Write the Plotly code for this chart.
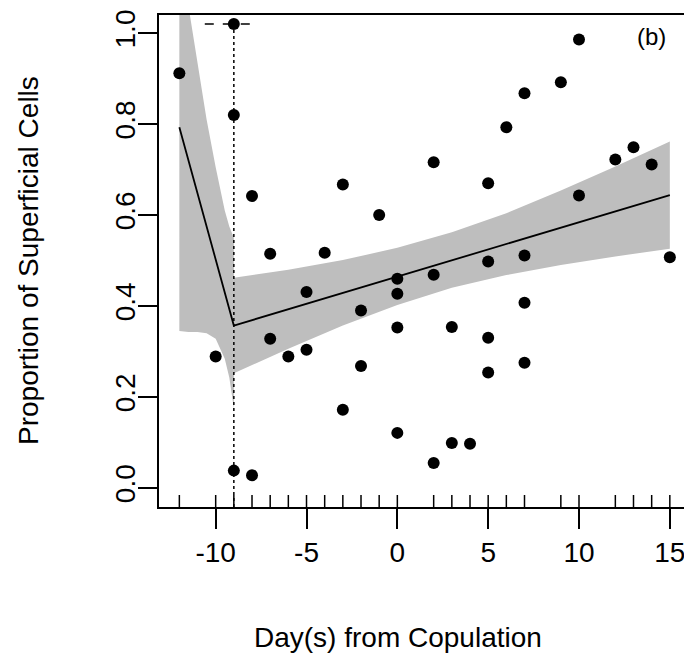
import plotly.graph_objects as go

# ---- data ----
days = [-12, -9, -9, -9, -10, -8, -8, -7, -7, -6, -5, -5, -4, -3, -3, -2, -2, -1,
        0, 0, 0, 0, 2, 2, 2, 3, 3, 4, 5, 5, 5, 5, 6, 7, 7, 7, 7, 9, 10, 10, 12, 13, 14, 15]
prop = [0.912, 1.02, 0.82, 0.038, 0.289, 0.642, 0.028, 0.515, 0.328, 0.289, 0.431, 0.304,
        0.517, 0.667, 0.172, 0.39, 0.268, 0.60, 0.46, 0.427, 0.353, 0.121, 0.716, 0.469,
        0.055, 0.354, 0.099, 0.097, 0.67, 0.498, 0.33, 0.254, 0.793, 0.868, 0.511, 0.407,
        0.275, 0.892, 0.986, 0.643, 0.722, 0.749, 0.711, 0.507]

fit_x = [-12, -9, 15]
fit_y = [0.793, 0.357, 0.644]

band_left_x = [-12, -11.5, -11, -10.5, -10, -9.5, -9.25, -9]
band_left_upper = [1.20, 1.06, 0.935, 0.81, 0.705, 0.61, 0.575, 0.55]
band_left_lower = [0.345, 0.343, 0.343, 0.340, 0.328, 0.284, 0.243, 0.175]

band_right_x = [-9, -6, -3, 0, 3, 6, 9, 12, 15]
band_right_upper = [0.462, 0.480, 0.501, 0.528, 0.562, 0.604, 0.654, 0.707, 0.762]
band_right_lower = [0.252, 0.306, 0.357, 0.402, 0.440, 0.468, 0.490, 0.509, 0.526]

breakpoint_x = -9
breakpoint_ci = [-10.6, -7.7]
breakpoint_y = 1.02

x_ticks = [-10, -5, 0, 5, 10, 15]
x_tick_text = ["-10", "-5", "0", "5", "10", "15"]
y_ticks = [0.0, 0.2, 0.4, 0.6, 0.8, 1.0]
y_tick_text = ["0.0", "0.2", "0.4", "0.6", "0.8", "1.0"]

x_title = "Day(s) from Copulation"
y_title = "Proportion of Superficial Cells"
panel_label = "(b)"

FONT = "Liberation Sans, Arial, sans-serif"
GREY = "#BEBEBE"

# the page body adds an 8px margin, so the figure is sized to fit inside it
W, H = 684, 658
ML, MR, MT, MB = 151, 4, 7, 159
PW, PH = W - ML - MR, H - MT - MB
PAGE_LEFT, PAGE_BOTTOM = 159, 507

fig = go.Figure()

# confidence bands
fig.add_trace(go.Scatter(
    x=band_left_x + band_left_x[::-1],
    y=band_left_upper + band_left_lower[::-1],
    fill="toself", fillcolor=GREY, line=dict(width=0), mode="lines",
    hoverinfo="skip", showlegend=False))
fig.add_trace(go.Scatter(
    x=band_right_x + band_right_x[::-1],
    y=band_right_upper + band_right_lower[::-1],
    fill="toself", fillcolor=GREY, line=dict(width=0), mode="lines",
    hoverinfo="skip", showlegend=False))

# fitted segmented line
fig.add_trace(go.Scatter(x=fit_x, y=fit_y, mode="lines",
                         line=dict(color="black", width=1.8), showlegend=False))

# breakpoint markers
fig.add_trace(go.Scatter(x=[breakpoint_x, breakpoint_x], y=[breakpoint_y, -0.042],
                         mode="lines", line=dict(color="black", width=1.5, dash="dot"),
                         showlegend=False))
fig.add_trace(go.Scatter(x=breakpoint_ci, y=[breakpoint_y, breakpoint_y],
                         mode="lines", line=dict(color="black", width=1.5, dash="dash"),
                         showlegend=False))

# data points
fig.add_trace(go.Scatter(x=days, y=prop, mode="markers",
                         marker=dict(color="black", size=12), showlegend=False))

# rug along the bottom axis
shapes = []
for d in sorted(set(days)):
    shapes.append(dict(type="line", xref="x", yref="paper", ysizemode="pixel",
                       yanchor=0, y0=0, y1=12, x0=d, x1=d,
                       line=dict(color="black", width=1.5)))

fig.add_annotation(x=14.0, y=0.992, xref="x", yref="y", text=panel_label,
                   showarrow=False, font=dict(family=FONT, size=24, color="black"))

# axis titles (positions given in page pixels, converted to plot-area fractions)
fig.add_annotation(x=(28 - PAGE_LEFT) / PW, y=0.5, xref="paper", yref="paper",
                   text=y_title, textangle=-90, showarrow=False,
                   xanchor="center", yanchor="middle",
                   font=dict(family=FONT, size=28, color="black"))
fig.add_annotation(x=(398 - PAGE_LEFT) / PW, y=-(637 - PAGE_BOTTOM) / PH,
                   xref="paper", yref="paper",
                   text=x_title, showarrow=False, xanchor="center", yanchor="middle",
                   font=dict(family=FONT, size=28, color="black"))

fig.update_layout(
    width=W, height=H,
    margin=dict(l=ML, r=MR, t=MT, b=MB, autoexpand=False),
    paper_bgcolor="white", plot_bgcolor="white",
    font=dict(family=FONT, color="black"),
    shapes=shapes,
    xaxis=dict(range=[-13.12, 16.0], tickvals=x_ticks, ticktext=x_tick_text,
               ticks="outside", ticklen=20, automargin=False,
               tickwidth=1.5, tickcolor="black", showgrid=False, zeroline=False,
               showline=True, linecolor="black", linewidth=1.5, mirror=True,
               tickfont=dict(family=FONT, size=28)),
    yaxis=dict(range=[-0.042, 1.040], tickvals=y_ticks, ticktext=y_tick_text,
               ticks="outside", ticklen=19, tickwidth=1.5, tickcolor="black",
               tickangle=-90, showgrid=False, zeroline=False, automargin=False,
               ticklabelstandoff=-8,
               showline=True, linecolor="black", linewidth=1.5, mirror=True,
               tickfont=dict(family=FONT, size=28)),
)

fig.write_html("out.html")
